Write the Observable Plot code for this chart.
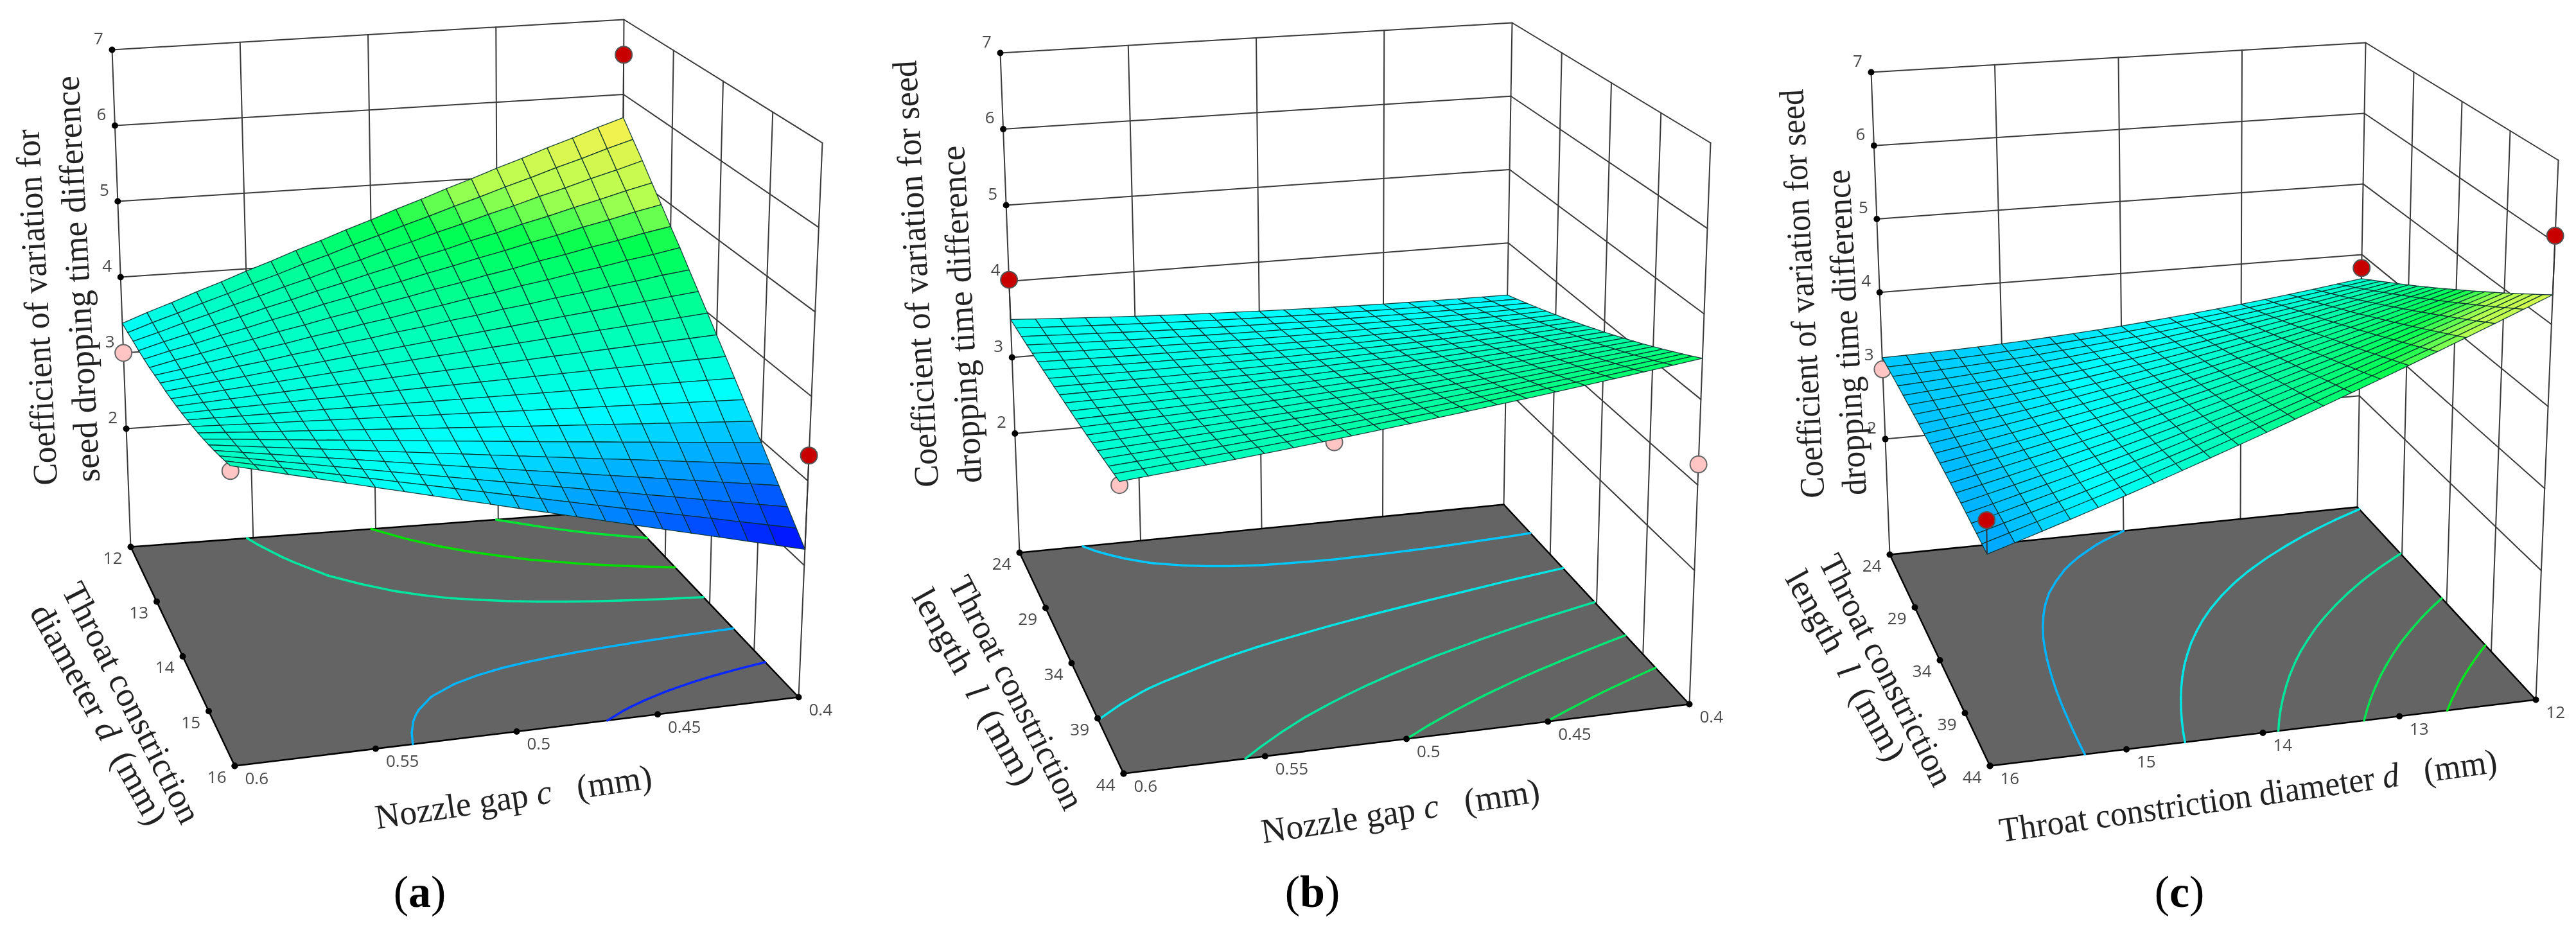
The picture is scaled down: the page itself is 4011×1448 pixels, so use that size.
<!DOCTYPE html>
<html><head><meta charset="utf-8">
<script src="https://cdn.jsdelivr.net/npm/d3@7"></script>
<script src="https://cdn.jsdelivr.net/npm/@observablehq/plot@0.6"></script>
<style>html,body{margin:0;padding:0;background:#fff}svg{display:block}</style>
</head><body><div id="chart"></div>
<script>
// ---------- values: coefficient of variation at each grid vertex ----------
const zA = [
[3.39,3.51,3.62,3.74,3.85,3.97,4.08,4.20,4.31,4.43,4.54,4.66,4.77,4.89,5.00,5.12,5.23,5.35,5.46,5.58,5.69],
[3.39,3.50,3.60,3.71,3.81,3.92,4.02,4.13,4.23,4.34,4.44,4.55,4.65,4.76,4.86,4.97,5.07,5.18,5.28,5.39,5.49],
[3.40,3.49,3.59,3.68,3.78,3.87,3.97,4.06,4.16,4.25,4.35,4.44,4.54,4.63,4.73,4.82,4.92,5.01,5.11,5.20,5.30],
[3.40,3.49,3.57,3.66,3.74,3.83,3.91,4.00,4.08,4.17,4.25,4.34,4.42,4.51,4.59,4.68,4.76,4.85,4.93,5.02,5.10],
[3.41,3.49,3.56,3.64,3.71,3.79,3.86,3.94,4.01,4.09,4.16,4.24,4.31,4.39,4.46,4.54,4.61,4.69,4.76,4.84,4.91],
[3.42,3.49,3.55,3.62,3.68,3.75,3.81,3.88,3.94,4.01,4.07,4.14,4.20,4.27,4.33,4.40,4.46,4.53,4.59,4.66,4.72],
[3.44,3.49,3.55,3.60,3.66,3.71,3.77,3.82,3.88,3.93,3.99,4.04,4.10,4.15,4.21,4.26,4.32,4.37,4.43,4.48,4.54],
[3.46,3.50,3.54,3.59,3.63,3.68,3.72,3.77,3.81,3.86,3.90,3.95,3.99,4.04,4.08,4.13,4.17,4.22,4.26,4.31,4.35],
[3.474,3.509,3.544,3.578,3.613,3.648,3.683,3.718,3.752,3.787,3.822,3.857,3.892,3.926,3.961,3.996,4.031,4.066,4.100,4.135,4.170],
[3.496,3.521,3.546,3.570,3.595,3.620,3.645,3.669,3.694,3.719,3.744,3.769,3.793,3.818,3.843,3.868,3.892,3.917,3.942,3.967,3.992],
[3.520,3.535,3.550,3.564,3.579,3.594,3.609,3.623,3.638,3.653,3.668,3.682,3.697,3.712,3.727,3.741,3.756,3.771,3.786,3.800,3.815],
[3.547,3.552,3.556,3.561,3.566,3.571,3.575,3.580,3.585,3.590,3.594,3.599,3.604,3.608,3.613,3.618,3.623,3.627,3.632,3.637,3.642],
[3.576,3.571,3.565,3.560,3.555,3.550,3.544,3.539,3.534,3.528,3.523,3.518,3.512,3.507,3.502,3.497,3.491,3.486,3.481,3.475,3.470],
[3.608,3.593,3.577,3.562,3.547,3.531,3.516,3.501,3.485,3.470,3.455,3.439,3.424,3.409,3.393,3.378,3.363,3.347,3.332,3.317,3.301],
[3.642,3.617,3.591,3.566,3.541,3.515,3.490,3.465,3.439,3.414,3.389,3.363,3.338,3.312,3.287,3.262,3.236,3.211,3.186,3.160,3.135],
[3.679,3.644,3.608,3.573,3.537,3.502,3.467,3.431,3.396,3.361,3.325,3.290,3.254,3.219,3.184,3.148,3.113,3.078,3.042,3.007,2.971],
[3.718,3.673,3.627,3.582,3.536,3.491,3.446,3.400,3.355,3.309,3.264,3.219,3.173,3.128,3.082,3.037,2.992,2.946,2.901,2.855,2.810],
[3.760,3.705,3.649,3.594,3.538,3.483,3.427,3.372,3.317,3.261,3.206,3.150,3.095,3.039,2.984,2.929,2.873,2.818,2.762,2.707,2.651],
[3.804,3.739,3.673,3.608,3.542,3.477,3.411,3.346,3.280,3.215,3.150,3.084,3.019,2.953,2.888,2.822,2.757,2.691,2.626,2.560,2.495],
[3.851,3.776,3.700,3.625,3.549,3.474,3.398,3.323,3.247,3.172,3.096,3.021,2.945,2.870,2.794,2.719,2.643,2.568,2.492,2.417,2.341],
[3.900,3.815,3.729,3.644,3.558,3.473,3.387,3.302,3.216,3.131,3.045,2.960,2.874,2.789,2.703,2.618,2.532,2.447,2.361,2.276,2.190]];
const zB = [
[3.500,3.480,3.461,3.443,3.426,3.410,3.395,3.381,3.368,3.356,3.345,3.335,3.326,3.318,3.311,3.305,3.300,3.296,3.293,3.291,3.290],
[3.507,3.489,3.473,3.457,3.443,3.429,3.417,3.405,3.394,3.385,3.376,3.369,3.362,3.357,3.352,3.348,3.346,3.344,3.344,3.344,3.346],
[3.514,3.499,3.485,3.472,3.459,3.448,3.438,3.429,3.421,3.414,3.408,3.402,3.398,3.395,3.393,3.392,3.392,3.392,3.394,3.397,3.401],
[3.522,3.509,3.498,3.487,3.477,3.468,3.461,3.454,3.448,3.443,3.440,3.437,3.435,3.435,3.435,3.436,3.438,3.442,3.446,3.451,3.458],
[3.530,3.520,3.510,3.502,3.495,3.489,3.483,3.479,3.476,3.473,3.472,3.472,3.472,3.474,3.477,3.481,3.485,3.491,3.498,3.505,3.514],
[3.538,3.530,3.523,3.517,3.513,3.509,3.506,3.504,3.503,3.503,3.504,3.506,3.510,3.514,3.519,3.525,3.532,3.540,3.549,3.559,3.571],
[3.547,3.542,3.537,3.534,3.531,3.530,3.529,3.530,3.531,3.534,3.538,3.542,3.548,3.554,3.562,3.570,3.580,3.590,3.602,3.614,3.628],
[3.557,3.554,3.552,3.551,3.551,3.552,3.554,3.557,3.561,3.566,3.572,3.579,3.587,3.596,3.606,3.617,3.629,3.642,3.656,3.671,3.687],
[3.566,3.565,3.566,3.567,3.570,3.573,3.577,3.583,3.589,3.597,3.605,3.614,3.625,3.636,3.649,3.662,3.676,3.692,3.708,3.726,3.744],
[3.577,3.579,3.582,3.585,3.590,3.596,3.603,3.611,3.620,3.629,3.640,3.652,3.665,3.679,3.694,3.709,3.726,3.744,3.763,3.783,3.804],
[3.588,3.592,3.598,3.604,3.611,3.619,3.629,3.639,3.650,3.662,3.676,3.690,3.705,3.721,3.739,3.757,3.776,3.796,3.818,3.840,3.863],
[3.599,3.606,3.613,3.622,3.632,3.642,3.654,3.667,3.680,3.695,3.711,3.727,3.745,3.764,3.784,3.804,3.826,3.849,3.872,3.897,3.923],
[3.610,3.619,3.629,3.640,3.652,3.666,3.680,3.695,3.711,3.728,3.746,3.765,3.785,3.806,3.828,3.852,3.876,3.901,3.927,3.954,3.982],
[3.623,3.635,3.647,3.661,3.675,3.691,3.707,3.725,3.743,3.763,3.783,3.805,3.827,3.851,3.875,3.901,3.927,3.955,3.984,4.013,4.044],
[3.635,3.649,3.664,3.680,3.697,3.715,3.734,3.754,3.775,3.797,3.820,3.843,3.868,3.894,3.921,3.949,3.978,4.008,4.039,4.071,4.104],
[3.648,3.664,3.682,3.700,3.720,3.740,3.761,3.784,3.807,3.831,3.857,3.883,3.911,3.939,3.968,3.999,4.030,4.062,4.096,4.130,4.166],
[3.662,3.681,3.701,3.721,3.743,3.766,3.790,3.815,3.840,3.867,3.895,3.924,3.954,3.984,4.016,4.049,4.083,4.118,4.153,4.190,4.228],
[3.676,3.697,3.719,3.743,3.767,3.792,3.818,3.846,3.874,3.903,3.933,3.965,3.997,4.030,4.064,4.099,4.136,4.173,4.211,4.250,4.291],
[3.690,3.714,3.738,3.764,3.791,3.818,3.847,3.877,3.907,3.939,3.972,4.005,4.040,4.075,4.112,4.150,4.188,4.228,4.269,4.310,4.353],
[3.705,3.731,3.758,3.786,3.815,3.845,3.876,3.909,3.942,3.976,4.011,4.047,4.084,4.122,4.161,4.201,4.242,4.284,4.327,4.372,4.417],
[3.720,3.749,3.778,3.809,3.840,3.873,3.906,3.941,3.976,4.013,4.050,4.089,4.128,4.169,4.210,4.253,4.296,4.341,4.386,4.433,4.480]];
const zC = [
[3.110,3.116,3.124,3.134,3.146,3.161,3.178,3.198,3.220,3.244,3.270,3.299,3.330,3.363,3.398,3.436,3.476,3.519,3.564,3.611,3.660],
[3.105,3.116,3.129,3.143,3.160,3.180,3.202,3.226,3.253,3.282,3.313,3.346,3.382,3.420,3.460,3.502,3.547,3.595,3.645,3.696,3.750],
[3.099,3.115,3.132,3.152,3.173,3.198,3.224,3.254,3.285,3.319,3.354,3.393,3.433,3.476,3.520,3.568,3.617,3.670,3.724,3.781,3.839],
[3.093,3.113,3.136,3.160,3.186,3.215,3.247,3.281,3.317,3.355,3.396,3.439,3.484,3.531,3.581,3.633,3.687,3.744,3.804,3.865,3.928],
[3.086,3.111,3.138,3.167,3.198,3.232,3.268,3.307,3.348,3.391,3.436,3.484,3.534,3.586,3.640,3.697,3.756,3.818,3.882,3.948,4.016],
[3.079,3.109,3.141,3.174,3.210,3.249,3.290,3.333,3.379,3.427,3.477,3.529,3.584,3.641,3.700,3.761,3.825,3.892,3.961,4.031,4.104],
[3.071,3.106,3.142,3.181,3.221,3.265,3.310,3.359,3.409,3.462,3.516,3.574,3.633,3.695,3.758,3.825,3.893,3.965,4.038,4.114,4.191],
[3.063,3.102,3.144,3.187,3.232,3.280,3.331,3.384,3.439,3.496,3.556,3.618,3.682,3.748,3.817,3.888,3.961,4.037,4.116,4.196,4.278],
[3.054,3.098,3.144,3.192,3.242,3.295,3.350,3.408,3.468,3.530,3.594,3.661,3.730,3.801,3.874,3.950,4.028,4.109,4.192,4.277,4.364],
[3.045,3.094,3.145,3.197,3.252,3.310,3.370,3.432,3.497,3.564,3.633,3.704,3.778,3.854,3.932,4.012,4.095,4.181,4.269,4.358,4.450],
[3.035,3.089,3.144,3.202,3.261,3.324,3.388,3.456,3.525,3.597,3.670,3.747,3.825,3.906,3.988,4.074,4.161,4.252,4.344,4.439,4.535],
[3.025,3.083,3.144,3.206,3.270,3.337,3.407,3.479,3.553,3.629,3.708,3.789,3.872,3.957,4.045,4.135,4.227,4.322,4.420,4.519,4.620],
[3.014,3.077,3.142,3.209,3.278,3.350,3.424,3.501,3.580,3.661,3.744,3.830,3.918,4.008,4.100,4.195,4.292,4.392,4.494,4.598,4.704],
[3.003,3.071,3.141,3.212,3.286,3.363,3.442,3.523,3.607,3.693,3.781,3.871,3.964,4.059,4.156,4.255,4.357,4.462,4.569,4.677,4.788],
[2.991,3.064,3.138,3.215,3.293,3.375,3.458,3.545,3.633,3.724,3.816,3.912,4.009,4.109,4.210,4.315,4.421,4.531,4.642,4.756,4.871],
[2.979,3.056,3.136,3.217,3.300,3.386,3.475,3.566,3.659,3.754,3.852,3.952,4.054,4.158,4.265,4.374,4.485,4.599,4.716,4.834,4.954],
[2.966,3.048,3.132,3.218,3.306,3.397,3.490,3.586,3.684,3.784,3.886,3.991,4.098,4.207,4.318,4.432,4.548,4.667,4.788,4.911,5.036],
[2.953,3.040,3.129,3.219,3.312,3.408,3.506,3.606,3.709,3.814,3.921,4.030,4.142,4.256,4.372,4.490,4.611,4.735,4.861,4.988,5.118],
[2.939,3.031,3.124,3.220,3.317,3.418,3.520,3.626,3.733,3.843,3.954,4.069,4.185,4.304,4.424,4.548,4.673,4.802,4.932,5.065,5.199],
[2.925,3.021,3.120,3.220,3.322,3.427,3.535,3.645,3.757,3.871,3.988,4.107,4.228,4.351,4.477,4.605,4.735,4.868,5.004,5.141,5.280],
[2.910,3.011,3.114,3.219,3.326,3.436,3.548,3.663,3.780,3.899,4.020,4.144,4.270,4.398,4.528,4.661,4.796,4.934,5.074,5.216,5.360]];

// contour levels drawn on each floor
const levelsA = [2.77,3.36,3.94,4.52,5.11];
const levelsB = [3.45,3.65,3.85,4.05,4.25];
const levelsC = [3.27,3.68,4.09,4.49,4.90];
const contourColorsA = ["#0a28ff","#00b4ff","#00e6a0","#00e000","#00e632"];
const contourColorsB = ["#00c8ff","#00e6e6","#00e6a0","#00e678","#00e650"];
const contourColorsC = ["#00b4ff","#00e6e6","#00e69b","#00e650","#00e61e"];

// design points: u (0..1 along the near axis), v (0..1 along the side axis), value, kind
const pointsA = [[1,0,6.53,"hi"],[1,1,3.30,"hi"],[0,0,3.00,"lo"],[0,1,3.84,"lo"]];
const pointsB = [[0,0,4.02,"hi"],[0,1,3.68,"lo"],[.5,.5,2.80,"lo"],[1,1,3.24,"lo"]];
const pointsC = [[0,0,2.95,"lo"],[0,1,3.31,"hi"],[1,0,3.81,"hi"],[1,1,6.08,"hi"]];

// tick labels
const zTicks = [2,3,4,5,6,7];
const gapTicks = ["0.6","0.55","0.5","0.45","0.4"];
const diamTicks = ["12","13","14","15","16"];
const diamTicksRev = ["16","15","14","13","12"];
const lenTicks = ["24","29","34","39","44"];

// ---------- 3D box of each panel (the projection, not data) ----------
const boxA = {TL:[174,77],TB:[971,30],TR:[1280,222],TF:[352,306],FL:[203,851],FB:[966,794],FR:[1243,1085],FF:[365,1192],zf:.44};
const boxB = {TL:[1557,82],TB:[2354,35],TR:[2663,222],TF:[1736,295],FL:[1587,860],FB:[2341,785],FR:[2630,1096],FF:[1749,1204],zf:.435};
const boxC = {TL:[2913,112],TB:[3683,66],TR:[3983,249],TF:[3086,320],FL:[2942,863],FB:[3670,789],FR:[3948,1089],FF:[3098,1192],zf:.425};

const panels = [
 {box:boxA,z:zA,levels:levelsA,cc:contourColorsA,points:pointsA,uT:gapTicks,vT:diamTicks},
 {box:boxB,z:zB,levels:levelsB,cc:contourColorsB,points:pointsB,uT:gapTicks,vT:lenTicks},
 {box:boxC,z:zC,levels:levelsC,cc:contourColorsC,points:pointsC,uT:diamTicksRev,vT:lenTicks}
];

const bil=(a,b,c,d,u,v)=>[0,1].map(k=>(1-v)*((1-u)*a[k]+u*b[k])+v*((1-u)*c[k]+u*d[k]));
function proj(B,u,v,z){
  const f=bil(B.FL,B.FB,B.FF,B.FR,u,v), t=bil(B.TL,B.TB,B.TF,B.TR,u,v), w=(z-B.zf)/(7-B.zf);
  return [f[0]+(t[0]-f[0])*w, f[1]+(t[1]-f[1])*w];
}
function segments(m,L){
  const out=[], n=m.length-1;
  for(let j=0;j<n;j++)for(let i=0;i<n;i++){
    const c=[[i,j],[i+1,j],[i+1,j+1],[i,j+1]], p=[];
    for(let e=0;e<4;e++){
      const A=c[e],Bb=c[(e+1)%4],a=m[A[1]][A[0]],b=m[Bb[1]][Bb[0]];
      if((a<L)!==(b<L)){const t=(L-a)/(b-a);p.push([(A[0]+(Bb[0]-A[0])*t)/n,(A[1]+(Bb[1]-A[1])*t)/n]);}
    }
    for(let k=0;k+1<p.length;k+=2)out.push([p[k],p[k+1]]);
  }
  return out;
}

const wall=[],floorPoly=[],links=[],cells=[],lo=[],hi=[],stems=[],dots=[],tickText=[],uText=[],vText=[];
panels.forEach((P,pi)=>{
  const B=P.box,q=(u,v,z)=>proj(B,u,v,z);
  const add=(id,pts)=>pts.forEach(p=>wall.push({id:`${pi}-${id}`,x:p[0],y:p[1]}));
  zTicks.forEach(z=>add("z"+z,[q(0,0,z),q(1,0,z),q(1,1,z)]));
  [0,.25,.5,.75,1].forEach(u=>add("u"+u,[q(u,0,B.zf),q(u,0,7)]));
  [.25,.5,.75,1].forEach(v=>add("v"+v,[q(1,v,B.zf),q(1,v,7)]));
  [[0,0],[1,0],[1,1],[0,1],[0,0]].forEach(c=>{const p=q(c[0],c[1],B.zf);floorPoly.push({id:pi,x:p[0],y:p[1]});});
  P.levels.forEach((L,li)=>segments(P.z,L).forEach(s=>{
    const a=q(s[0][0],s[0][1],B.zf),b=q(s[1][0],s[1][1],B.zf);
    links.push({x1:a[0],y1:a[1],x2:b[0],y2:b[1],color:P.cc[li]});
  }));
  const n=P.z.length-1;
  for(let j=0;j<n;j++)for(let i=0;i<n;i++){
    const vals=[P.z[j][i],P.z[j][i+1],P.z[j+1][i+1],P.z[j+1][i]],value=d3.mean(vals);
    [[i,j,0],[i+1,j,1],[i+1,j+1,2],[i,j+1,3],[i,j,0]].forEach(c=>{
      const p=q(c[0]/n,c[1]/n,vals[c[2]]);cells.push({id:`${pi}-${i}-${j}`,x:p[0],y:p[1],value});
    });
  }
  P.points.forEach(([u,v,z,k])=>{
    const p=q(u,v,z);(k==="hi"?hi:lo).push({x:p[0],y:p[1]});
    if(k==="hi"){
      const s=q(u,v,P.z[Math.round(v*n)][Math.round(u*n)]);
      stems.push({x1:p[0],y1:p[1],x2:s[0],y2:s[1]});
    }
  });
  zTicks.forEach(z=>{const p=q(0,0,z);dots.push({x:p[0],y:p[1]});tickText.push({x:p[0],y:p[1],t:String(z)});});
  P.uT.forEach((t,i)=>{const p=q(i/4,1,B.zf);dots.push({x:p[0],y:p[1]});uText.push({x:p[0],y:p[1],t});});
  P.vT.forEach((t,i)=>{const p=q(0,i/4,B.zf);dots.push({x:p[0],y:p[1]});vText.push({x:p[0],y:p[1],t});});
});

// axis titles: position, angle, drawn length
const nb="\u00a0";
const titles=[
 {x:57,y:478,r:-93,len:555,t:"Coefficient of variation for"},
 {x:121,y:434,r:-93,len:633,t:"seed dropping time difference"},
 {x:204,y:1094,r:63,len:413,t:"Throat constriction"},
 {x:153,y:1112,r:61,len:384,t:`diameter _d_${nb}${nb}(mm)`},
 {x:799,y:1241,r:-8.5,len:435,t:`Nozzle gap _c_${nb}${nb}${nb}(mm)`},
 {x:1426,y:426,r:-93,len:665,t:"Coefficient of variation for seed"},
 {x:1497,y:489,r:-93,len:526,t:"dropping time difference"},
 {x:1582,y:1078,r:63,len:400,t:"Throat constriction"},
 {x:1516,y:1069,r:61,len:341,t:`length${nb}${nb}_l_${nb}${nb}(mm)`},
 {x:2180,y:1263,r:-8.5,len:438,t:`Nozzle gap _c_${nb}${nb}${nb}(mm)`},
 {x:2806,y:457,r:-93,len:637,t:"Coefficient of variation for seed"},
 {x:2875,y:517,r:-93,len:508,t:"dropping time difference"},
 {x:2936,y:1043,r:63,len:397,t:"Throat constriction"},
 {x:2873,y:1036,r:61,len:330,t:`length${nb}${nb}_l_${nb}${nb}(mm)`},
 {x:3500,y:1239,r:-8,len:782,t:`Throat constriction diameter _d_${nb}${nb}${nb}(mm)`}
];
const captions=[{x:653,y:1389,t:"(*a*)"},{x:2043,y:1389,t:"(*b*)"},{x:3393,y:1389,t:"(*c*)"}];

const tickFont={fontFamily:"'Open Sans'",fontSize:26,fill:"#4a4a4a"};
const serif="'Liberation Serif'";
const fig=Plot.plot({
  width:4011,height:1448,margin:0,
  x:{domain:[0,4011],range:[0,4011],axis:null},
  y:{domain:[0,1448],range:[0,1448],axis:null},
  color:{type:"linear",domain:[2.19,3.357,4.55,4.95,5.69],range:["#0000ff","#00ffff","#00ff50","#b4ff50","#ffee50"]},
  style:{background:"#fff",filter:"blur(0.6px)"},
  marks:[
    Plot.line(wall,{x:"x",y:"y",z:"id",stroke:"#3a3a3a",strokeWidth:2}),
    Plot.line(floorPoly,{x:"x",y:"y",z:"id",fill:"#646464",stroke:"#000",strokeWidth:2.5}),
    Plot.link(links,{x1:"x1",y1:"y1",x2:"x2",y2:"y2",stroke:{value:"color",scale:null},strokeWidth:3.5,strokeLinecap:"round"}),
    Plot.dot(dots,{x:"x",y:"y",r:5,fill:"#000"}),
    Plot.dot(lo,{x:"x",y:"y",r:13,fill:"#ffc4c4",stroke:"#666",strokeWidth:2}),
    Plot.line(cells,{x:"x",y:"y",z:"id",fill:"value",stroke:"#06302f",strokeWidth:1.3,strokeOpacity:.9}),
    Plot.link(stems,{x1:"x1",y1:"y1",x2:"x2",y2:"y2",stroke:"#333",strokeWidth:2}),
    Plot.dot(hi,{x:"x",y:"y",r:13,fill:"#c80000",stroke:"#555",strokeWidth:2}),
    Plot.text(tickText,{x:"x",y:"y",text:"t",dx:-21,dy:-17,...tickFont}),
    Plot.text(uText,{x:"x",y:"y",text:"t",dx:16,dy:20,textAnchor:"start",...tickFont}),
    Plot.text(vText,{x:"x",y:"y",text:"t",dx:-13,dy:18,textAnchor:"end",...tickFont}),
    Plot.text(titles,{x:"x",y:"y",text:"t",rotate:"r",fontFamily:serif,fontSize:54,fill:"#222"}),
    Plot.text(captions,{x:"x",y:"y",text:"t",fontFamily:serif,fontSize:70,fill:"#000"})
  ]
});
// inline emphasis and drawn length inside each single text element
let titleIndex=0;
d3.select(fig).selectAll("text").each(function(){
  const el=d3.select(this),s=this.textContent;
  if(titleIndex<titles.length&&s===titles[titleIndex].t){
    el.attr("textLength",titles[titleIndex].len).attr("lengthAdjust","spacingAndGlyphs");
    titleIndex++;
  }
  if(!/[_*]/.test(s))return;
  el.text(null);
  s.split(/(_[^_]+_|\*[^*]+\*)/).filter(Boolean).forEach(part=>{
    const ts=el.append("tspan");
    if(part[0]==="_")ts.attr("font-style","italic").text(part.slice(1,-1));
    else if(part[0]==="*")ts.attr("font-weight","bold").text(part.slice(1,-1));
    else ts.text(part);
  });
});
document.getElementById("chart").append(fig);
</script></body></html>
